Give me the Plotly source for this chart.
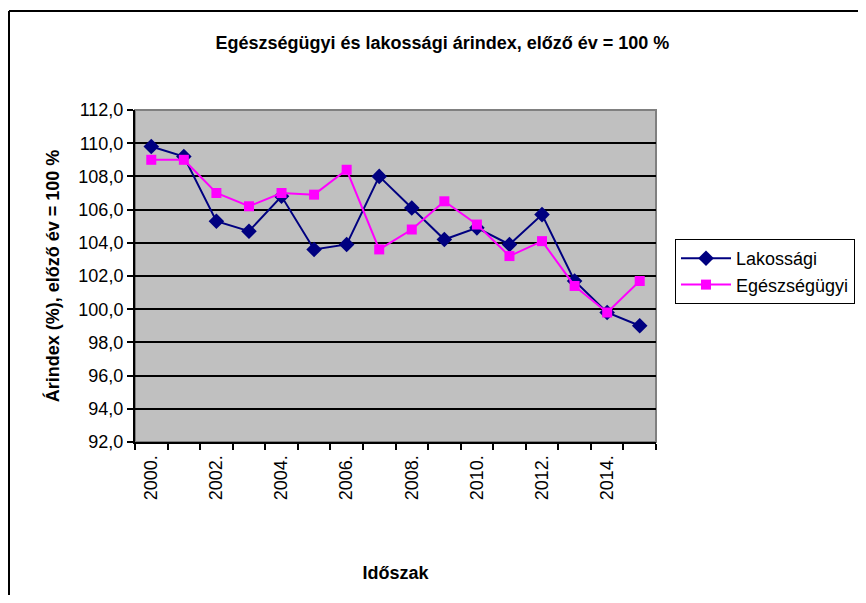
import plotly.graph_objects as go

years = list(range(2000, 2016))
year_labels = [f"{y}." for y in years]
lakossagi = [109.8, 109.2, 105.3, 104.7, 106.8, 103.6, 103.9, 108.0, 106.1, 104.2, 104.9, 103.9, 105.7, 101.7, 99.8, 99.0]
egeszsegugyi = [109.0, 109.0, 107.0, 106.2, 107.0, 106.9, 108.4, 103.6, 104.8, 106.5, 105.1, 103.2, 104.1, 101.4, 99.8, 101.7]

FONT = "Liberation Sans, Arial, sans-serif"

fig = go.Figure()
fig.add_trace(go.Scatter(
    x=years, y=lakossagi, name="Lakossági", mode="lines+markers",
    line=dict(color="#000080", width=2),
    marker=dict(symbol="diamond", size=12, color="#000080"),
))
fig.add_trace(go.Scatter(
    x=years, y=egeszsegugyi, name="Egészségügyi", mode="lines+markers",
    line=dict(color="#FF00FF", width=2),
    marker=dict(symbol="square", size=10, color="#FF00FF"),
))

# page has an 8px body margin, so figure coords = page coords - 8
OFF = 8
W, H = 866 - OFF, 603 - 2 * OFF
L, T, R, B = 135 - OFF, 110 - OFF, 656 - OFF, 442 - OFF
pw, ph = R - L, B - T

def px(x):
    return (x - OFF - L) / pw

def py(y):
    return (B - (y - OFF)) / ph

border = dict(color="black", width=2)

fig.update_layout(
    width=W, height=H,
    margin=dict(l=L, r=W - R, t=T, b=H - B, autoexpand=False),
    paper_bgcolor="white",
    plot_bgcolor="#C0C0C0",
    separators=", ",
    font=dict(family=FONT, size=18, color="black"),
    title=dict(text="<b>Egészségügyi és lakossági árindex, előző év = 100 %</b>",
               x=0.59, xanchor="center", y=1 - (43 - OFF) / H, yanchor="middle",
               xref="paper", font=dict(size=18)),
    showlegend=True,
    legend=dict(x=px(675), xanchor="left", y=py(239), yanchor="top",
                bordercolor="black", borderwidth=1, bgcolor="white",
                font=dict(size=18), itemwidth=50, tracegroupgap=0),
    shapes=[
        dict(type="rect", xref="paper", yref="paper", x0=0, x1=1, y0=0, y1=1,
             line=dict(color="#808080", width=2), layer="below"),
        dict(type="line", xref="paper", yref="paper",
             x0=px(9), x1=px(920), y0=py(11), y1=py(11), line=border, layer="above"),
        dict(type="line", xref="paper", yref="paper",
             x0=px(9), x1=px(9), y0=py(11), y1=py(660), line=border, layer="above"),
    ],
)

fig.update_xaxes(
    range=[1999.5, 2015.5],
    tickvals=years[::2], ticktext=year_labels[::2],
    tickangle=-90, ticks="", ticklen=0, ticklabelstandoff=4,
    tickfont=dict(size=18),
    showgrid=False, zeroline=False,
    showline=True, linecolor="black", linewidth=2,
    minor=dict(tickvals=[y - 0.5 for y in years] + [2015.5], ticks="outside",
               ticklen=6, tickcolor="black", tickwidth=2, showgrid=False),
    title=dict(text="<b>Időszak</b>", font=dict(size=18), standoff=67),
)
fig.update_yaxes(
    range=[92, 112], tick0=92, dtick=2, tickformat=".1f",
    ticks="outside", ticklen=6, tickcolor="black", tickwidth=2,
    tickfont=dict(size=18),
    showgrid=True, gridcolor="black", gridwidth=2,
    zeroline=False,
    showline=True, linecolor="black", linewidth=2,
    title=dict(text="<b>Árindex (%), előző év = 100 %</b>", font=dict(size=18), standoff=14),
)

fig.write_html("out.html")
